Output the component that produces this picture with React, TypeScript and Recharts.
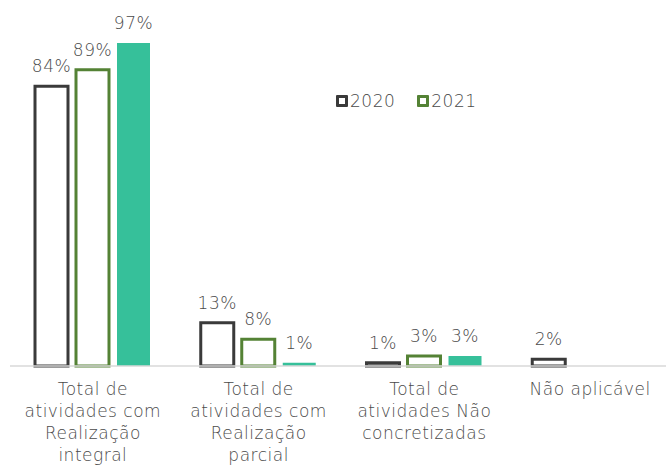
import { Bar, BarChart, LabelList, XAxis, YAxis } from "recharts";

const categories = [
  "Total de|atividades com|Realização|integral",
  "Total de|atividades com|Realização|parcial",
  "Total de|atividades Não|concretizadas",
  "Não aplicável",
];
const s2020 = [84, 13, 1, 2];
const s2021 = [89, 8, 3, null];
const s2022 = [97, 1, 3, null];

const data = categories.map((name, i) => ({
  name,
  a: s2020[i],
  b: s2021[i],
  c: s2022[i],
}));

const FONT = "'DejaVu Sans', sans-serif";
const GREY = "#4a4a4a";
const FS = 17;
const LS = 0.5;

const CategoryTick = (props: any) => {
  const { x, y, payload } = props;
  const lines = String(payload.value).split("|");
  return (
    <text x={x} y={y + 21} textAnchor="middle" fill={GREY} fontSize={FS} fontWeight={300} fontFamily={FONT} letterSpacing={LS}>
      {lines.map((l, i) => (
        <tspan key={i} x={x} dy={i === 0 ? 0 : 22}>
          {l}
        </tspan>
      ))}
    </text>
  );
};

const legendItems = [
  { label: "2020", color: "#3a3a3a" },
  { label: "2021", color: "#548235" },
];

const pct = (v: any) => (v == null ? "" : `${v}%`);

const labelProps = {
  position: "top" as const,
  offset: 14,
  formatter: pct,
  fill: GREY,
  fontSize: FS,
  fontWeight: 300,
  fontFamily: FONT,
  letterSpacing: LS,
};

export default function App() {
  return (
    <div style={{ position: "absolute", left: 0, top: 0, width: 666, height: 468, overflow: "hidden", background: "#fff" }}>
      <BarChart
        width={673}
        height={468}
        data={data}
        margin={{ top: 33, right: 0, left: 10, bottom: 0 }}
        barSize={33}
        barGap={8}
      >
        <XAxis
          dataKey="name"
          axisLine={{ stroke: "#d9d9d9", strokeWidth: 1.5 }}
          tickLine={false}
          tick={<CategoryTick />}
          height={102}
          interval={0}
        />
        <YAxis hide domain={[0, 100]} />
        <Bar dataKey="a" fill="#ffffff" stroke="#3a3a3a" strokeWidth={3} isAnimationActive={false}>
          <LabelList dataKey="a" {...labelProps} />
        </Bar>
        <Bar dataKey="b" fill="#ffffff" stroke="#548235" strokeWidth={3} isAnimationActive={false}>
          <LabelList dataKey="b" {...labelProps} />
        </Bar>
        <Bar dataKey="c" fill="#36c09a" isAnimationActive={false}>
          <LabelList dataKey="c" {...labelProps} />
        </Bar>
      </BarChart>
      <div
        style={{
          position: "absolute",
          left: 336,
          top: 91,
          display: "flex",
          gap: 22,
          fontFamily: FONT,
          fontWeight: 300,
          fontSize: FS,
          letterSpacing: LS,
          color: GREY,
        }}
      >
        {legendItems.map((it) => (
          <div key={it.label} style={{ display: "flex", alignItems: "center" }}>
            <span
              style={{
                display: "inline-block",
                width: 6,
                height: 6,
                border: `3px solid ${it.color}`,
                borderRadius: 1,
                marginRight: 2,
              }}
            />
            {it.label}
          </div>
        ))}
      </div>
    </div>
  );
}
